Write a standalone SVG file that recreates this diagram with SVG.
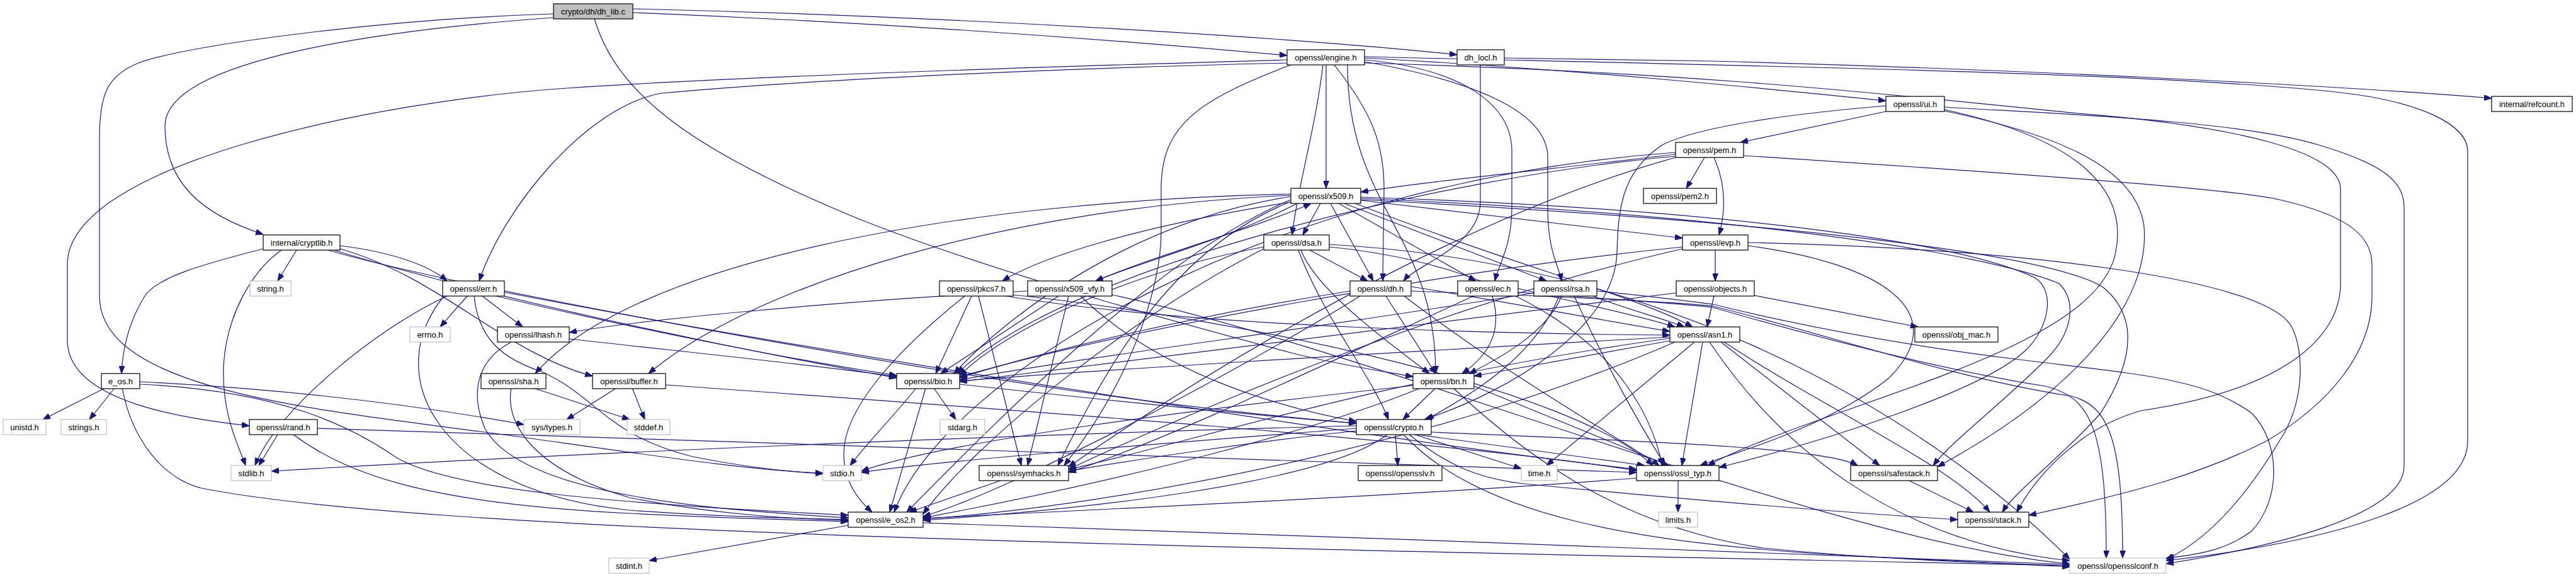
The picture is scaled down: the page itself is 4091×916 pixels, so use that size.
<svg xmlns="http://www.w3.org/2000/svg" width="4091" height="916" viewBox="0 0 4091 916">
<defs>
<marker id="a" markerWidth="12" markerHeight="9" refX="12" refY="4.5" orient="auto" markerUnits="userSpaceOnUse"><path d="M0,0 L12,4.5 L0,9 z" fill="#191970" stroke="#191970"/></marker>
<style>
.n rect{fill:#fff;stroke:#000;stroke-width:1.2}
.g rect{fill:#fff;stroke:#bfbfbf;stroke-width:1.2}
.s rect{fill:#bfbfbf;stroke:#000;stroke-width:1.2}
text{font-family:"Liberation Sans",Arial,Helvetica,sans-serif;font-size:13px;text-anchor:middle;fill:#000}
#edges path{fill:none;stroke:#191970;stroke-width:1.2;marker-end:url(#a)}
</style>
</defs>
<rect width="4091" height="916" fill="#fff"/>
<g id="edges">
<path d="M1005,20 C1500,40 1900,75 2044,88"/>
<path d="M1005,14 C1600,28 2150,68 2314,87"/>
<path d="M879,28 C640,45 262,90 262,200 C262,290 320,340 418,372"/>
<path d="M879,22 C620,30 300,70 220,100 C170,120 158,150 158,220 L158,470 C158,620 500,650 800,690 C1050,725 1200,748 1307,751"/>
<path d="M944,30 C980,150 1100,240 1370,350 C1600,440 1900,520 2050,560 C2130,580 2200,590 2244,598"/>
<path d="M2351,103 L2351,320 C2351,390 2250,420 2229,446"/>
<path d="M2389,92 L2720,97 C3200,110 3700,135 3957,156"/>
<path d="M2106,103 L2106,299"/>
<path d="M2101,103 C2090,200 2060,300 2052,373"/>
<path d="M2119,103 C2180,180 2198,230 2198,300 L2196,446"/>
<path d="M2167,95 C2330,110 2401,170 2401,240 L2401,330 C2401,390 2380,420 2374,446"/>
<path d="M2167,98 C2350,130 2458,180 2458,250 L2458,330 C2458,400 2475,420 2480,446"/>
<path d="M2167,92 C2500,110 2800,140 2995,160"/>
<path d="M2167,90 C2800,105 3400,115 3700,145 C3850,160 3919,200 3919,240 L3919,700 C3919,800 3700,860 3440,890"/>
<path d="M2044,95 C1700,105 1200,120 900,140 C600,160 107,260 107,420 L107,540 C107,640 300,665 396,676"/>
<path d="M2044,100 C1700,108 1300,125 1050,148 C930,170 800,330 761,446"/>
<path d="M2050,103 C1900,160 1844,200 1844,300 L1844,370 C1844,450 1800,600 1690,739"/>
<path d="M2167,100 C2700,115 3000,150 3300,180 C3550,200 3717,240 3717,300 L3717,450 C3717,540 3620,620 3400,652 C3300,680 3230,760 3203,813"/>
<path d="M2140,103 C2140,330 2280,370 2280,593"/>
<path d="M2995,177 L2764,226"/>
<path d="M3088,170 C3250,180 3550,190 3682,230 C3790,262 3818,290 3818,330 L3818,740 C3818,820 3600,870 3440,895"/>
<path d="M2995,168 C2850,180 2700,200 2640,230 C2580,270 2570,320 2568,400 C2565,520 2400,620 2262,666"/>
<path d="M3088,176 C3250,210 3393,260 3405,360 C3415,480 3300,620 3077,741"/>
<path d="M3088,174 C3300,220 3380,300 3360,400 C3330,560 2900,640 2712,739"/>
<path d="M2707,250 L2678,299"/>
<path d="M2722,250 C2740,290 2742,330 2730,373"/>
<path d="M2661,245 C2450,270 2250,290 2161,305"/>
<path d="M2661,248 C2300,280 1700,420 1520,593"/>
<path d="M2769,247 C3200,275 3550,300 3620,317 C3720,340 3767,370 3767,420 L3767,470 C3767,560 3700,640 3600,700 C3500,750 3400,780 3222,818"/>
<path d="M2661,250 C2300,350 1900,600 1697,741"/>
<path d="M2661,242 C2000,290 1500,600 1420,813"/>
<path d="M2097,323 L2069,373"/>
<path d="M2113,323 L2181,446"/>
<path d="M2126,323 L2344,446"/>
<path d="M2135,323 L2456,446"/>
<path d="M2150,322 C2400,420 2600,470 2688,519"/>
<path d="M2161,318 L2672,378"/>
<path d="M2161,313 C2700,330 3100,380 3230,440 C3265,460 3255,520 3217,556 C3150,620 2900,700 2730,742"/>
<path d="M2161,315 C2750,340 3150,400 3270,450 C3300,480 3290,530 3250,570 C3180,640 3100,700 3070,739"/>
<path d="M2161,317 C2800,350 3250,400 3340,456 C3393,500 3393,566 3336,656 C3280,720 3200,780 3180,813"/>
<path d="M2050,317 C1850,400 1600,650 1440,813"/>
<path d="M2050,312 C1800,350 1600,500 1515,593"/>
<path d="M2050,310 C1600,330 1200,450 1030,593"/>
<path d="M2050,308 C1500,320 1000,420 850,593"/>
<path d="M2060,323 C1950,380 1800,420 1740,446"/>
<path d="M2055,320 C1800,360 1650,410 1592,446"/>
<path d="M2050,320 C1850,400 1750,600 1680,739"/>
<path d="M1740,446 C1850,400 2000,360 2082,323"/>
<path d="M1681,470 L1494,593"/>
<path d="M1697,470 L1632,739"/>
<path d="M1632,462 C1300,480 1000,510 904,528"/>
<path d="M1716,470 C1850,600 2050,650 2154,669"/>
<path d="M1766,468 C2200,560 2900,860 3287,895"/>
<path d="M471,397 L441,446"/>
<path d="M418,395 C320,420 250,440 230,470 C205,510 195,550 193,593"/>
<path d="M447,397 C400,430 360,500 355,580 C352,660 380,710 390,739"/>
<path d="M521,397 C700,450 1300,560 1700,620 C1950,655 2080,665 2154,672"/>
<path d="M540,395 C700,440 800,560 941,597"/>
<path d="M530,397 C800,480 1200,560 1424,600"/>
<path d="M540,390 C620,400 680,420 710,446"/>
<path d="M2080,397 L2172,446"/>
<path d="M2066,397 C2090,460 2200,540 2270,593"/>
<path d="M2062,397 C2100,500 2180,600 2205,666"/>
<path d="M2111,392 C2400,420 2600,550 2640,739"/>
<path d="M2111,388 C2700,420 3100,700 3287,888"/>
<path d="M2007,392 C1800,430 1600,520 1524,596"/>
<path d="M2007,395 C1800,500 1550,700 1466,816"/>
<path d="M2724,397 L2724,446"/>
<path d="M2672,392 C2300,430 1800,520 1524,598"/>
<path d="M2672,395 C2300,480 1900,650 1697,745"/>
<path d="M2776,390 C3000,420 3100,500 3000,600 C2900,680 2750,720 2700,739"/>
<path d="M2776,385 C3200,395 3600,440 3640,520 C3660,560 3660,640 3620,700 C3560,800 3500,860 3440,888"/>
<path d="M1543,470 L1486,593"/>
<path d="M1554,470 L1622,739"/>
<path d="M1532,470 C1420,560 1340,650 1340,720 C1340,770 1370,800 1385,813"/>
<path d="M1598,470 C1900,520 2400,530 2652,532"/>
<path d="M1609,468 C2000,510 2500,620 2625,739"/>
<path d="M2201,470 L2280,593"/>
<path d="M2241,455 C2400,480 2550,510 2652,526"/>
<path d="M2144,462 C1900,500 1650,560 1524,600"/>
<path d="M2160,470 C1950,600 1600,780 1466,820"/>
<path d="M2230,470 C2400,600 2580,700 2635,739"/>
<path d="M2241,462 C2450,470 2650,478 2720,486 C2900,530 3100,600 3290,629 C3350,645 3371,700 3371,886"/>
<path d="M2370,470 C2385,520 2370,560 2322,593"/>
<path d="M2411,458 C2500,480 2600,500 2660,519"/>
<path d="M2340,470 C2100,580 1850,700 1697,750"/>
<path d="M2411,464 C2550,475 2650,480 2720,488 C2900,540 3100,590 3248,613 C3320,630 3345,680 3345,886"/>
<path d="M2480,470 C2460,520 2400,560 2333,593"/>
<path d="M2476,470 C2440,560 2350,620 2265,666"/>
<path d="M2530,470 C2580,490 2640,505 2675,519"/>
<path d="M2436,465 C2100,520 1700,570 1524,603"/>
<path d="M2500,470 C2560,600 2620,700 2645,739"/>
<path d="M2536,462 C2620,470 2680,478 2720,483 C2850,515 3000,545 3200,570 C3400,595 3500,600 3576,656 C3620,700 3625,790 3576,843 C3540,870 3500,880 3440,886"/>
<path d="M2722,470 L2711,519"/>
<path d="M2786,469 L3046,519"/>
<path d="M2662,465 C2200,520 1800,570 1524,606"/>
<path d="M904,538 C1100,560 1300,580 1424,598"/>
<path d="M812,543 C760,570 745,620 770,680 C830,790 1150,810 1347,822"/>
<path d="M742,470 L699,519"/>
<path d="M766,470 L830,519"/>
<path d="M753,470 C760,540 800,570 860,590 C950,630 960,690 1100,725 C1200,745 1270,750 1307,752"/>
<path d="M710,470 C600,520 440,650 405,739"/>
<path d="M705,470 C600,600 700,780 1000,810 C1200,825 1300,822 1347,825"/>
<path d="M788,470 C1000,520 1250,570 1424,596"/>
<path d="M801,464 C1300,560 2200,700 2599,745"/>
<path d="M167,616 L68,666"/>
<path d="M182,616 L142,666"/>
<path d="M222,606 C500,620 700,650 832,674"/>
<path d="M222,610 C450,620 560,680 620,720 C700,780 1000,800 1347,818"/>
<path d="M194,616 C210,700 260,760 320,775 C700,850 2000,870 3287,898"/>
<path d="M847,616 L1000,666"/>
<path d="M812,616 C800,680 860,750 1000,790 C1150,820 1280,824 1347,826"/>
<path d="M979,616 L900,666"/>
<path d="M1004,616 L1024,666"/>
<path d="M1057,611 C1600,650 2300,700 2599,747"/>
<path d="M1483,616 L1518,666"/>
<path d="M1470,616 L1413,813"/>
<path d="M1455,616 C1420,660 1380,700 1350,739"/>
<path d="M1524,610 C1800,640 2000,660 2154,672"/>
<path d="M2280,616 L2228,666"/>
<path d="M2341,613 L2650,739"/>
<path d="M2308,616 C2450,750 2600,840 2800,870 C3000,890 3200,895 3287,898"/>
<path d="M2244,612 C1900,650 1500,700 1368,748"/>
<path d="M2256,616 C2100,680 1800,760 1466,822"/>
<path d="M441,690 L411,739"/>
<path d="M504,680 C1200,700 2200,740 2599,750"/>
<path d="M466,690 C560,760 700,800 1000,815 C1200,825 1300,826 1347,828"/>
<path d="M2216,690 L2220,739"/>
<path d="M2247,690 L2416,744"/>
<path d="M2251,690 L2612,739"/>
<path d="M2273,686 C2600,700 2900,710 2950,739"/>
<path d="M2238,690 C2300,740 2350,760 2420,768 C2700,795 2950,815 3109,825"/>
<path d="M2229,690 C2350,820 2600,860 2900,880 C3100,890 3200,895 3287,900"/>
<path d="M2203,690 C2100,770 1700,810 1466,826"/>
<path d="M2154,680 C1900,700 1500,730 1368,750"/>
<path d="M2154,676 C1600,690 900,720 431,748"/>
<path d="M2154,684 C2000,700 1800,730 1697,748"/>
<path d="M1589,763 L1444,813"/>
<path d="M2665,763 L2665,813"/>
<path d="M2599,759 C2200,790 1700,810 1466,823"/>
<path d="M3032,763 L3134,813"/>
<path d="M1347,834 L1031,890"/>
<path d="M1466,830 C2000,850 3000,880 3287,896"/>
<path d="M2652,541 L2341,597"/>
<path d="M2691,543 L2456,739"/>
<path d="M2704,543 L2671,739"/>
<path d="M2733,543 L2985,739"/>
<path d="M2738,543 C2900,650 3100,740 3160,813"/>
<path d="M2715,543 C2820,700 3000,860 3287,890"/>
<path d="M2652,537 C2200,600 1900,700 1697,745"/>
<path d="M2652,535 C2200,560 1700,590 1524,605"/>
<path d="M2660,543 C2300,700 1800,800 1466,824"/>
</g>
<g id="dh_lib" class="s"><rect x="879" y="6" width="126" height="24"/><text x="942" y="23">crypto/dh/dh_lib.c</text></g>
<g id="engine" class="n"><rect x="2044" y="79" width="123" height="24"/><text x="2105.5" y="96">openssl/engine.h</text></g>
<g id="dh_locl" class="n"><rect x="2314" y="79" width="75" height="24"/><text x="2351.5" y="96">dh_locl.h</text></g>
<g id="ui" class="n"><rect x="2995" y="153" width="93" height="24"/><text x="3041.5" y="170">openssl/ui.h</text></g>
<g id="refcount" class="n"><rect x="3957" y="153" width="128" height="24"/><text x="4021" y="170">internal/refcount.h</text></g>
<g id="pem" class="n"><rect x="2661" y="226" width="108" height="24"/><text x="2715" y="243">openssl/pem.h</text></g>
<g id="x509" class="n"><rect x="2050" y="299" width="111" height="24"/><text x="2105.5" y="316">openssl/x509.h</text></g>
<g id="pem2" class="n"><rect x="2610" y="299" width="116" height="24"/><text x="2668" y="316">openssl/pem2.h</text></g>
<g id="cryptlib" class="n"><rect x="418" y="373" width="122" height="24"/><text x="479" y="390">internal/cryptlib.h</text></g>
<g id="dsa" class="n"><rect x="2007" y="373" width="104" height="24"/><text x="2059" y="390">openssl/dsa.h</text></g>
<g id="evp" class="n"><rect x="2672" y="373" width="104" height="24"/><text x="2724" y="390">openssl/evp.h</text></g>
<g id="string" class="g"><rect x="397" y="446" width="65" height="24"/><text x="429.5" y="463">string.h</text></g>
<g id="err" class="n"><rect x="703" y="446" width="98" height="24"/><text x="752" y="463">openssl/err.h</text></g>
<g id="pkcs7" class="n"><rect x="1492" y="446" width="117" height="24"/><text x="1550.5" y="463">openssl/pkcs7.h</text></g>
<g id="x509_vfy" class="n"><rect x="1632" y="446" width="134" height="24"/><text x="1699" y="463">openssl/x509_vfy.h</text></g>
<g id="dh" class="n"><rect x="2144" y="446" width="97" height="24"/><text x="2192.5" y="463">openssl/dh.h</text></g>
<g id="ec" class="n"><rect x="2315" y="446" width="96" height="24"/><text x="2363" y="463">openssl/ec.h</text></g>
<g id="rsa" class="n"><rect x="2436" y="446" width="100" height="24"/><text x="2486" y="463">openssl/rsa.h</text></g>
<g id="objects" class="n"><rect x="2662" y="446" width="124" height="24"/><text x="2724" y="463">openssl/objects.h</text></g>
<g id="errno" class="g"><rect x="651" y="519" width="64" height="24"/><text x="683" y="536">errno.h</text></g>
<g id="lhash" class="n"><rect x="790" y="519" width="114" height="24"/><text x="847" y="536">openssl/lhash.h</text></g>
<g id="asn1" class="n"><rect x="2652" y="519" width="111" height="24"/><text x="2707.5" y="536">openssl/asn1.h</text></g>
<g id="obj_mac" class="n"><rect x="3041" y="519" width="132" height="24"/><text x="3107" y="536">openssl/obj_mac.h</text></g>
<g id="e_os" class="n"><rect x="161" y="593" width="61" height="24"/><text x="191.5" y="610">e_os.h</text></g>
<g id="sha" class="n"><rect x="764" y="593" width="103" height="24"/><text x="815.5" y="610">openssl/sha.h</text></g>
<g id="buffer" class="n"><rect x="941" y="593" width="116" height="24"/><text x="999" y="610">openssl/buffer.h</text></g>
<g id="bio" class="n"><rect x="1424" y="593" width="100" height="24"/><text x="1474" y="610">openssl/bio.h</text></g>
<g id="bn" class="n"><rect x="2244" y="593" width="97" height="24"/><text x="2292.5" y="610">openssl/bn.h</text></g>
<g id="unistd" class="g"><rect x="5" y="666" width="68" height="24"/><text x="39" y="683">unistd.h</text></g>
<g id="strings" class="g"><rect x="97" y="666" width="72" height="24"/><text x="133" y="683">strings.h</text></g>
<g id="rand" class="n"><rect x="396" y="666" width="108" height="24"/><text x="450" y="683">openssl/rand.h</text></g>
<g id="sys_types" class="g"><rect x="832" y="666" width="89" height="24"/><text x="876.5" y="683">sys/types.h</text></g>
<g id="stddef" class="g"><rect x="996" y="666" width="68" height="24"/><text x="1030" y="683">stddef.h</text></g>
<g id="stdarg" class="g"><rect x="1493" y="666" width="71" height="24"/><text x="1528.5" y="683">stdarg.h</text></g>
<g id="crypto" class="n"><rect x="2154" y="666" width="119" height="24"/><text x="2213.5" y="683">openssl/crypto.h</text></g>
<g id="stdlib" class="g"><rect x="367" y="739" width="64" height="24"/><text x="399" y="756">stdlib.h</text></g>
<g id="stdio" class="g"><rect x="1307" y="739" width="61" height="24"/><text x="1337.5" y="756">stdio.h</text></g>
<g id="symhacks" class="n"><rect x="1555" y="739" width="142" height="24"/><text x="1626" y="756">openssl/symhacks.h</text></g>
<g id="opensslv" class="n"><rect x="2157" y="739" width="133" height="24"/><text x="2223.5" y="756">openssl/opensslv.h</text></g>
<g id="time" class="g"><rect x="2416" y="739" width="57" height="24"/><text x="2444.5" y="756">time.h</text></g>
<g id="ossl_typ" class="n"><rect x="2599" y="739" width="131" height="24"/><text x="2664.5" y="756">openssl/ossl_typ.h</text></g>
<g id="safestack" class="n"><rect x="2939" y="739" width="138" height="24"/><text x="3008" y="756">openssl/safestack.h</text></g>
<g id="e_os2" class="n"><rect x="1347" y="813" width="119" height="24"/><text x="1406.5" y="830">openssl/e_os2.h</text></g>
<g id="limits" class="g"><rect x="2634" y="813" width="62" height="24"/><text x="2665" y="830">limits.h</text></g>
<g id="stack" class="n"><rect x="3109" y="813" width="113" height="24"/><text x="3165.5" y="830">openssl/stack.h</text></g>
<g id="stdint" class="g"><rect x="967" y="886" width="64" height="24"/><text x="999" y="903">stdint.h</text></g>
<g id="opensslconf" class="g"><rect x="3287" y="886" width="153" height="24"/><text x="3363.5" y="903">openssl/opensslconf.h</text></g>
</svg>
